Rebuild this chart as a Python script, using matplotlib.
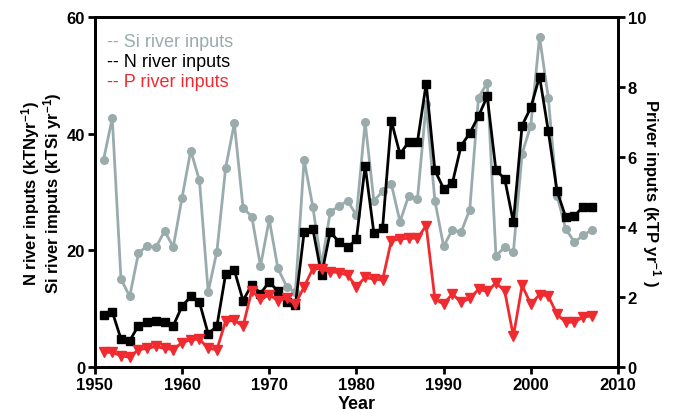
import matplotlib
matplotlib.use('Agg')
import matplotlib.pyplot as plt

plt.rcParams['font.family'] = ['Liberation Sans', 'DejaVu Sans']
plt.rcParams['mathtext.default'] = 'regular'

years = list(range(1951, 2008))

# Si river inputs (kTSi/yr), left axis
si = [35.5, 42.7, 15.1, 12.1, 19.5, 20.8, 20.5, 23.3, 20.6, 29.0,
      37.1, 32.0, 12.9, 19.8, 34.1, 41.8, 27.3, 25.8, 17.3, 25.3,
      16.9, 13.8, 12.8, 35.5, 27.5, 17.4, 26.6, 27.6, 28.5, 26.0,
      42.0, 28.5, 30.1, 31.4, 24.9, 29.4, 28.8, 45.1, 28.5, 20.7,
      23.5, 23.1, 27.0, 46.2, 48.7, 19.1, 20.5, 19.7, 36.6, 41.4,
      56.6, 46.2, 29.4, 23.7, 21.4, 22.6, 23.5]

# N river inputs (kTN/yr), left axis
n = [8.9, 9.5, 4.8, 4.5, 7.1, 7.7, 7.9, 7.8, 7.1, 10.4,
     12.1, 11.1, 5.7, 7.0, 15.9, 16.6, 11.4, 14.1, 12.6, 14.6,
     13.0, 11.1, 10.6, 23.1, 23.7, 15.8, 23.2, 21.4, 20.5, 21.9,
     34.5, 23.0, 23.8, 42.2, 36.5, 38.6, 38.6, 48.6, 33.7, 30.6,
     31.5, 37.9, 40.1, 43.0, 46.4, 33.7, 32.3, 24.8, 41.4, 44.5,
     49.8, 40.5, 30.2, 25.7, 25.9, 27.5, 27.5]

# P river inputs (kTP/yr), right axis
p = [0.42, 0.42, 0.32, 0.28, 0.50, 0.53, 0.59, 0.53, 0.50, 0.70,
     0.78, 0.80, 0.53, 0.50, 1.31, 1.33, 1.17, 2.18, 1.94, 2.06,
     1.90, 1.96, 1.80, 2.29, 2.81, 2.80, 2.72, 2.70, 2.62, 2.30,
     2.56, 2.51, 2.49, 3.61, 3.66, 3.68, 3.68, 4.04, 1.94, 1.80,
     2.09, 1.85, 1.96, 2.22, 2.16, 2.40, 2.18, 0.88, 2.33, 1.80,
     2.07, 2.03, 1.51, 1.28, 1.28, 1.43, 1.46]

si_color = '#9aabac'
p_color = '#ef2b30'

fig = plt.figure(figsize=(6.87, 4.14), dpi=100)
ax = fig.add_axes([0.138, 0.111, 0.7616, 0.8455])
ax2 = ax.twinx()

ax.plot(years, si, color=si_color, lw=2, marker='o', ms=5.5, zorder=2)
ax.plot(years, n, color='black', lw=2, marker='s', ms=5.5, zorder=3)
ax2.plot(years, p, color=p_color, lw=2, marker='v', ms=6.5)

ax.set_xlim(1950, 2010)
ax.set_ylim(0, 60)
ax2.set_ylim(0, 10)
ax.set_xticks(range(1950, 2011, 10))
ax.set_yticks([0, 20, 40, 60])
ax2.set_yticks(range(0, 11, 2))

for a in (ax, ax2):
    for s in a.spines.values():
        s.set_linewidth(2)
    a.tick_params(width=2, length=5, labelsize=12, direction='out', pad=2)
    for lab in a.get_xticklabels() + a.get_yticklabels():
        lab.set_fontweight('bold')

ax.set_xlabel('Year', fontsize=13, fontweight='bold', labelpad=2)
ax.set_ylabel('N river inputs (kTNyr$^{-1}$)\nSi river imputs (kTSi yr$^{-1}$)',
              fontsize=12, fontweight='bold', labelpad=2, linespacing=0.95)
ax2.set_ylabel('Priver inputs (kTP yr$^{-1}$ )', fontsize=12,
               fontweight='bold', rotation=270, labelpad=12)

ax.text(0.024, 0.931, '-- Si river inputs', color=si_color, fontsize=13,
        transform=ax.transAxes, va='center')
ax.text(0.024, 0.874, '-- N river inputs', color='black', fontsize=13,
        transform=ax.transAxes, va='center')
ax.text(0.024, 0.817, '-- P river inputs', color=p_color, fontsize=13,
        transform=ax.transAxes, va='center')

fig.savefig('out.png', dpi=100)
